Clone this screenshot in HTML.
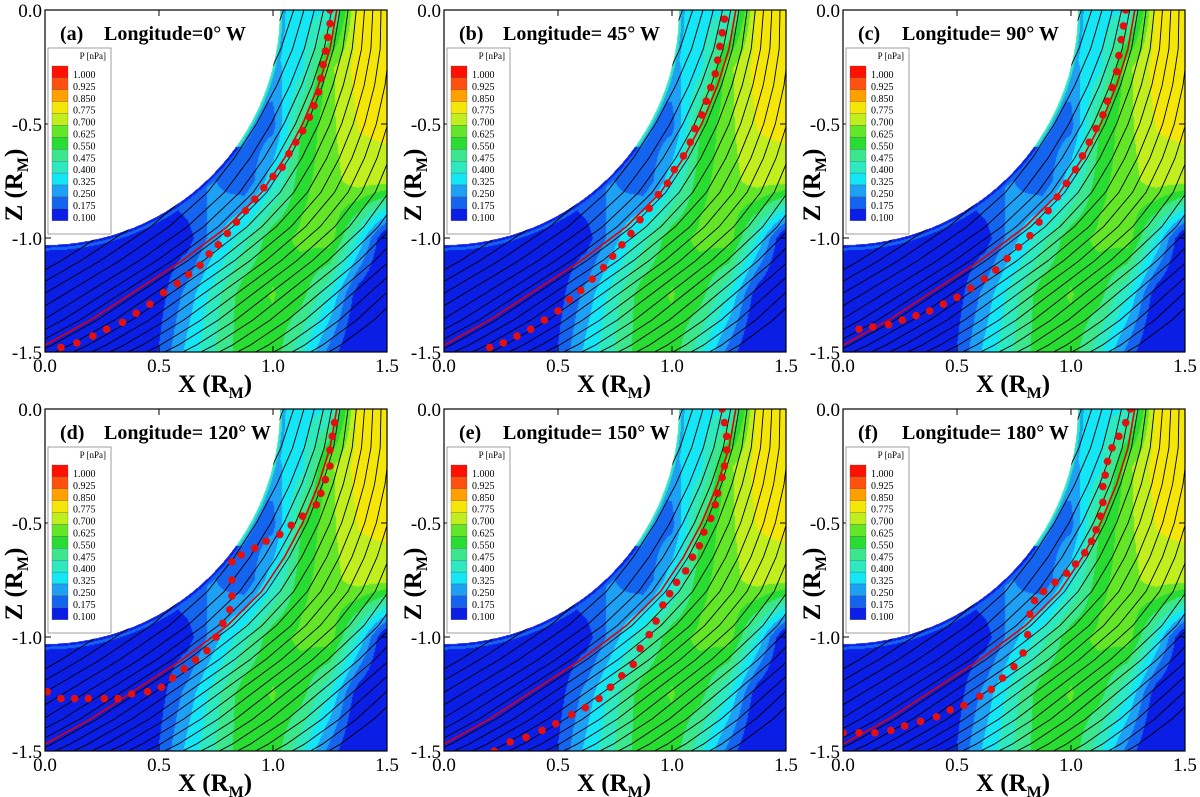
<!DOCTYPE html>
<html><head><meta charset="utf-8">
<style>
html,body{margin:0;padding:0;background:#fff;}
#wrap{position:relative;width:1200px;height:797px;overflow:hidden;}
canvas{position:absolute;}
svg{position:absolute;left:0;top:0;}
text{font-family:"Liberation Serif",serif;}
</style></head>
<body>
<div id="wrap">
<svg id="svg" width="1200" height="797"></svg>
</div>
<script>
// ---- data ----
const panelLabels = ["(a)","(b)","(c)","(d)","(e)","(f)"];
const panelTitles = ["Longitude=0\u00b0 W","Longitude= 45\u00b0 W","Longitude= 90\u00b0 W","Longitude= 120\u00b0 W","Longitude= 150\u00b0 W","Longitude= 180\u00b0 W"];
const legendLevels = ["1.000","0.925","0.850","0.775","0.700","0.625","0.550","0.475","0.400","0.325","0.250","0.175","0.100"];
const levelColors = ["#0a1ee6","#1464f0","#1ea0f5","#14e6f5","#2ee8c0","#3ce68c","#28dc32","#64e628","#c0ee1e","#f5e60a","#ffa000","#ff5010","#ff1000"];
const xTicks = [0.0,0.5,1.0,1.5];
const zTicks = [0.0,-0.5,-1.0,-1.5];
// pressure grid (rows z = 0,-0.25,...,-1.5 ; cols x = 0,0.125,...,1.5)
const gridX = [0,0.125,0.25,0.375,0.5,0.625,0.75,0.875,1.0,1.125,1.25,1.375,1.5];
const gridZ = [0,-0.25,-0.5,-0.75,-1.0,-1.25,-1.5];
const pRow0 = [0.36,0.36,0.36,0.36,0.36,0.36,0.36,0.36,0.36,0.36,0.4,0.8,0.83];
const pRow1 = [0.3,0.3,0.3,0.3,0.3,0.3,0.3,0.3,0.3,0.38,0.68,0.81,0.83];
const pRow2 = [0.2,0.2,0.2,0.2,0.2,0.2,0.2,0.2,0.22,0.55,0.68,0.78,0.8];
const pRow3 = [0.15,0.15,0.15,0.15,0.15,0.25,0.25,0.18,0.38,0.6,0.67,0.74,0.73];
const pRow4 = [0.12,0.12,0.15,0.12,0.12,0.14,0.3,0.45,0.6,0.64,0.67,0.4,0.06];
const pRow5 = [0.1,0.1,0.1,0.1,0.14,0.28,0.45,0.6,0.63,0.58,0.4,0.12,0.05];
const pRow6 = [0.1,0.1,0.1,0.1,0.18,0.35,0.48,0.6,0.6,0.42,0.22,0.06,0.05];
const pGrid = [pRow0,pRow1,pRow2,pRow3,pRow4,pRow5,pRow6];
const redLineX = [-0.4,-0.2,0,0.2,0.4,0.6,0.8,0.95,1.05,1.13,1.2,1.25,1.28];
const redLineZ = [-1.64,-1.56,-1.47,-1.36,-1.23,-1.1,-0.95,-0.8,-0.65,-0.5,-0.33,-0.17,0];
const streamOffsets = [-0.62,-0.52,-0.42,-0.32,-0.22,-0.13,-0.05,0.03,0.11,0.19,0.27,0.35,0.43,0.51,0.59,0.67,0.75,0.83,0.91,0.99,1.07,1.15,1.23,1.31];
const dotsA = [[0.07,-1.48],[0.14,-1.46],[0.21,-1.43],[0.27,-1.4],[0.34,-1.37],[0.4,-1.33],[0.46,-1.29],[0.52,-1.24],[0.58,-1.2],[0.63,-1.16],[0.68,-1.12],[0.72,-1.07],[0.76,-1.03],[0.8,-0.98],[0.84,-0.93],[0.88,-0.88],[0.92,-0.83],[0.96,-0.78],[1.0,-0.73],[1.04,-0.69],[1.07,-0.63],[1.1,-0.58],[1.13,-0.53],[1.16,-0.47],[1.18,-0.42],[1.2,-0.36],[1.21,-0.3],[1.22,-0.24],[1.23,-0.18],[1.24,-0.12],[1.25,-0.06],[1.25,0]];
const dotsB = [[0.2,-1.48],[0.26,-1.46],[0.32,-1.43],[0.38,-1.4],[0.44,-1.36],[0.5,-1.32],[0.55,-1.27],[0.6,-1.23],[0.65,-1.18],[0.7,-1.13],[0.74,-1.08],[0.78,-1.03],[0.82,-0.98],[0.86,-0.92],[0.9,-0.87],[0.94,-0.81],[0.98,-0.76],[1.01,-0.7],[1.05,-0.64],[1.08,-0.58],[1.1,-0.52],[1.13,-0.46],[1.15,-0.4],[1.17,-0.34],[1.19,-0.28],[1.2,-0.22],[1.21,-0.16],[1.22,-0.1],[1.23,-0.04]];
const dotsC = [[0.07,-1.4],[0.13,-1.39],[0.2,-1.38],[0.26,-1.36],[0.32,-1.34],[0.38,-1.32],[0.44,-1.29],[0.5,-1.26],[0.56,-1.22],[0.62,-1.18],[0.67,-1.14],[0.72,-1.09],[0.77,-1.04],[0.82,-0.99],[0.86,-0.93],[0.9,-0.88],[0.94,-0.82],[0.98,-0.76],[1.02,-0.7],[1.05,-0.64],[1.08,-0.58],[1.11,-0.52],[1.14,-0.46],[1.16,-0.4],[1.18,-0.34],[1.2,-0.27],[1.21,-0.2],[1.22,-0.13],[1.23,-0.07],[1.24,0]];
const dotsD = [[0.01,-1.24],[0.07,-1.27],[0.13,-1.27],[0.19,-1.27],[0.26,-1.27],[0.32,-1.27],[0.38,-1.25],[0.45,-1.24],[0.51,-1.22],[0.56,-1.18],[0.61,-1.14],[0.66,-1.1],[0.71,-1.06],[0.75,-1.0],[0.78,-0.94],[0.81,-0.88],[0.82,-0.82],[0.82,-0.75],[0.82,-0.67],[0.86,-0.64],[0.92,-0.61],[0.97,-0.58],[1.03,-0.55],[1.08,-0.51],[1.13,-0.47],[1.19,-0.42],[1.21,-0.37],[1.23,-0.31],[1.25,-0.25],[1.25,-0.18],[1.26,-0.12],[1.27,-0.06]];
const dotsE = [[0.22,-1.5],[0.29,-1.46],[0.36,-1.44],[0.43,-1.41],[0.49,-1.38],[0.56,-1.34],[0.62,-1.31],[0.68,-1.27],[0.73,-1.22],[0.78,-1.17],[0.83,-1.12],[0.86,-1.05],[0.9,-0.99],[0.93,-0.93],[0.96,-0.86],[0.99,-0.81],[1.02,-0.76],[1.06,-0.71],[1.09,-0.65],[1.12,-0.6],[1.14,-0.54],[1.17,-0.48],[1.19,-0.42],[1.2,-0.37],[1.22,-0.3],[1.23,-0.25],[1.24,-0.18],[1.24,-0.12],[1.23,-0.06],[1.22,0]];
const dotsF = [[0.0,-1.42],[0.07,-1.42],[0.14,-1.42],[0.21,-1.41],[0.27,-1.39],[0.34,-1.37],[0.41,-1.35],[0.47,-1.32],[0.53,-1.3],[0.6,-1.26],[0.65,-1.23],[0.7,-1.18],[0.75,-1.13],[0.79,-1.07],[0.81,-0.99],[0.82,-0.9],[0.84,-0.84],[0.88,-0.8],[0.93,-0.76],[0.98,-0.72],[1.02,-0.68],[1.06,-0.63],[1.09,-0.58],[1.11,-0.53],[1.13,-0.47],[1.14,-0.41],[1.14,-0.34],[1.15,-0.29],[1.16,-0.23],[1.18,-0.17],[1.21,-0.12],[1.24,-0.06],[1.26,0]];
const allDots = [dotsA,dotsB,dotsC,dotsD,dotsE,dotsF];
// ---- layout ----
const panelLeft = [45,444,843], panelTop = [10,409], PW = 342, PH = 342;
const NS = "http://www.w3.org/2000/svg";
const svg = document.getElementById('svg');
function mk(tag, attrs, parent){const e=document.createElementNS(NS,tag);for(const k in attrs)e.setAttribute(k,attrs[k]);(parent||svg).appendChild(e);return e;}

function field(X,Z){
  const r=Math.hypot(X,Z);
  if(r<1.03) return null;
  if(r<1.042) return Z>-0.6?0.42:0.12;
  if(r<1.055) return Z>-0.6?0.3:0.2;
  let fx=X/0.125, fz=-Z/0.25;
  let i=Math.min(11,Math.floor(fx)), j=Math.min(5,Math.floor(fz));
  const tx=fx-i, tz=fz-j;
  const a=pGrid[j][i]*(1-tx)+pGrid[j][i+1]*tx;
  const b=pGrid[j+1][i]*(1-tx)+pGrid[j+1][i+1]*tx;
  return a*(1-tz)+b*tz;
}
function gscale(z){return 0.45+0.55*(-z/1.5);}

for(let pi=0;pi<6;pi++){
  const L=panelLeft[pi%3], T=panelTop[Math.floor(pi/3)];
  const g=mk('g',{});
  
  
  const sx=x=>L+x/1.5*PW, sz=z=>T-z/1.5*PH;
  const cv=document.createElement('canvas');cv.width=PW;cv.height=PH;cv.style.left=L+'px';cv.style.top=T+'px';
  
  
  document.getElementById('wrap').insertBefore(cv,svg);
  const ctx=cv.getContext('2d');const img=ctx.createImageData(PW,PH);
  const rgb=levelColors.map(c=>[parseInt(c.substr(1,2),16),parseInt(c.substr(3,2),16),parseInt(c.substr(5,2),16)]);
  for(let j=0;j<PH;j++)for(let i=0;i<PW;i++){
    const X=(i+0.5)/PW*1.5, Z=-(j+0.5)/PH*1.5;
    const p=field(X,Z);const k=(j*PW+i)*4;
    let c=[255,255,255];
    if(p!==null){let idx=Math.floor((p-0.1)/0.075);idx=Math.max(0,Math.min(12,idx));c=rgb[idx];}
    img.data[k]=c[0];img.data[k+1]=c[1];img.data[k+2]=c[2];img.data[k+3]=255;
  }
  ctx.putImageData(img,0,0);
  const cid='clip'+pi;
  const defs=mk('defs',{},g);const cp=mk('clipPath',{id:cid},defs);mk('rect',{x:L,y:T,width:PW,height:PH},cp);
  const inner=mk('g',{'clip-path':'url(#'+cid+')'},g);
  streamOffsets.forEach(d=>{
    let dstr='';
    redLineX.forEach((x,k)=>{const z=redLineZ[k];dstr+=(k?'L':'M')+sx(x+d*gscale(z)).toFixed(1)+','+sz(z).toFixed(1);});
    const s=mk('path',{d:dstr,fill:'none',stroke:'#000','stroke-width':0.9},inner);
    
    
  });
  const pl=mk('circle',{cx:sx(0),cy:sz(0),r:1.03/1.5*PW,fill:'#fff'},inner);
  
  
  let rd='';redLineX.forEach((x,k)=>{rd+=(k?'L':'M')+sx(x).toFixed(1)+','+sz(redLineZ[k]).toFixed(1);});
  const rl=mk('path',{d:rd,fill:'none',stroke:'#e00000','stroke-width':1.6},inner);
  
  
  allDots[pi].forEach(pt=>{
    const c=mk('circle',{cx:sx(pt[0]),cy:sz(pt[1]),r:3.8,fill:'#e41010'},inner);
    
    
  });
  const fr=mk('rect',{x:L,y:T,width:PW,height:PH,fill:'none',stroke:'#000','stroke-width':1.2},g);
  
  
  xTicks.forEach(t=>{
    mk('line',{x1:sx(t),x2:sx(t),y1:T+PH,y2:T+PH-6,stroke:'#000'},g);
    mk('line',{x1:sx(t),x2:sx(t),y1:T,y2:T+6,stroke:'#000'},g);
    const tx=mk('text',{x:sx(t),y:T+PH+20,'font-size':19,'text-anchor':'middle'},g);tx.textContent=t.toFixed(1);
    
    
  });
  zTicks.forEach(t=>{
    mk('line',{x1:L,x2:L+6,y1:sz(t),y2:sz(t),stroke:'#000'},g);
    mk('line',{x1:L+PW,x2:L+PW-6,y1:sz(t),y2:sz(t),stroke:'#000'},g);
    const tx=mk('text',{x:L-3,y:sz(t)+7,'font-size':19,'text-anchor':'end'},g);tx.textContent=t.toFixed(1);
    
    
  });
  const xt=mk('text',{x:L+170,y:T+PH+40,'font-size':25,'font-weight':'bold','text-anchor':'middle'},g);
  xt.innerHTML='X (R<tspan font-size="16" dy="6">M</tspan><tspan dy="-6">)</tspan>';
  
  
  const zt=mk('text',{x:0,y:0,'font-size':25,'font-weight':'bold','text-anchor':'middle',transform:'translate('+(L-23)+','+(T+175)+') rotate(-90)'},g);
  zt.innerHTML='Z (R<tspan font-size="16" dy="6">M</tspan><tspan dy="-6">)</tspan>';
  
  
  const pt=mk('text',{x:L+15,y:T+30,'font-size':20,'font-weight':'bold'},g);pt.textContent=panelLabels[pi];
  
  
  const tt=mk('text',{x:L+59,y:T+30,'font-size':20,'font-weight':'bold'},g);tt.textContent=panelTitles[pi];
  
  
  const lg=mk('g',{},g);
  
  
  const lx=L+3, ly=T+38;
  mk('rect',{x:lx,y:ly,width:63,height:186,fill:'#fff',stroke:'#888','stroke-width':0.8},lg);
  const lt=mk('text',{x:lx+58,y:ly+11,'font-size':9,'text-anchor':'end'},lg);lt.textContent='P [nPa]';
  
  
  legendLevels.forEach((lab,k)=>{
    const ci=12-k;
    const sw=mk('rect',{x:lx+4,y:ly+18+k*11.9,width:16,height:11.9,fill:levelColors[ci],stroke:'#555','stroke-width':0.3},lg);
    
    
    const lb=mk('text',{x:lx+25,y:ly+30+k*11.9,'font-size':10},lg);lb.textContent=lab;
    
    
  });
}
</script>
</body></html>
